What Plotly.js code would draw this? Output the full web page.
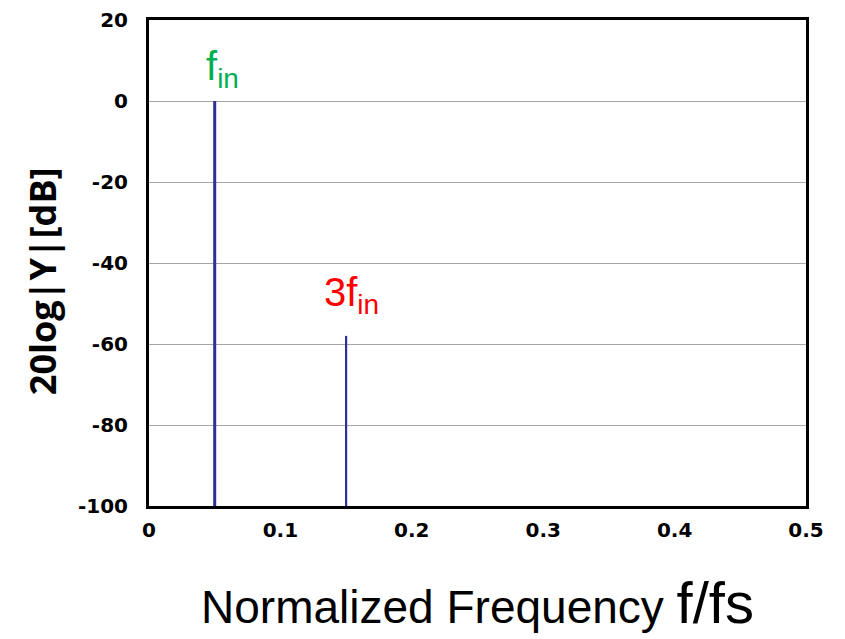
<!DOCTYPE html>
<html><head><meta charset="utf-8">
<script src="https://cdn.plot.ly/plotly-3.0.1.min.js"></script>
<style>body{margin:0;background:#fff}#c{width:845px;height:639px}</style>
</head><body><div id="c"></div>
<script>
const freqs = [0.05, 0.15];
const magnitudes = [0, -58];
const floorDb = -100;
const labels = ['f<sub>in</sub>', '3f<sub>in</sub>'];
const labelColors = ['#00b050', '#ff0000'];
const labelY = [8, -48];
const xTicks = [0, 0.1, 0.2, 0.3, 0.4, 0.5];
const xTickText = ['0', '0.1', '0.2', '0.3', '0.4', '0.5'];
const yTicks = [-100, -80, -60, -40, -20, 0, 20];
const yTickText = ['-100', '-80', '-60', '-40', '-20', '0', '20'];
const yTitle = '20log|Y|[dB]';
const widths = [3, 2.2];

const traces = freqs.map((f, i) => ({
  x: [f, f], y: [floorDb, magnitudes[i]], mode: 'lines', type: 'scatter',
  line: {color: '#2e3192', width: widths[i]}, hoverinfo: 'skip', showlegend: false
}));

const tickFont = {family: 'DejaVu Sans, sans-serif', size: 20, color: '#000', weight: 'bold'};
const annotations = freqs.map((f, i) => ({
  x: f, y: labelY[i], text: labels[i], showarrow: false,
  font: {family: 'Liberation Sans, Arial, sans-serif', size: 40, color: labelColors[i]},
  xanchor: 'center', yanchor: 'middle', xshift: i === 0 ? 8 : 5
}));
annotations.push({
  xref: 'paper', yref: 'paper', x: -0.161, y: 0.463, text: yTitle, textangle: -90,
  showarrow: false, xanchor: 'center', yanchor: 'middle',
  font: {family: 'Open Sans, Lato, sans-serif', size: 36, color: '#000', weight: 'bold'}
});

const layout = {
  width: 845, height: 639,
  margin: {l: 149, r: 39, t: 20, b: 133},
  paper_bgcolor: '#fff', plot_bgcolor: '#fff',
  xaxis: {
    range: [0, 0.5], tickvals: xTicks, ticktext: xTickText,
    showgrid: false, zeroline: false, showline: true, mirror: true,
    linecolor: '#000', linewidth: 3, ticks: '', ticklabelstandoff: 4,
    tickfont: tickFont,
    title: {text: 'Normalized Frequency <span style="font-size:58px">f/fs</span>',
            font: {family: 'Liberation Sans, Arial, sans-serif', size: 46, color: '#000'}, standoff: 50}
  },
  yaxis: {
    range: [-100, 20], tickvals: yTicks, ticktext: yTickText,
    showgrid: true, gridcolor: '#a6a6a6', gridwidth: 1, zeroline: false,
    showline: true, mirror: true, linecolor: '#000', linewidth: 3, ticks: '',
    ticklabelstandoff: 14, tickfont: tickFont
  },
  annotations: annotations
};
Plotly.newPlot('c', traces, layout, {staticPlot: true, displayModeBar: false});
</script></body></html>
